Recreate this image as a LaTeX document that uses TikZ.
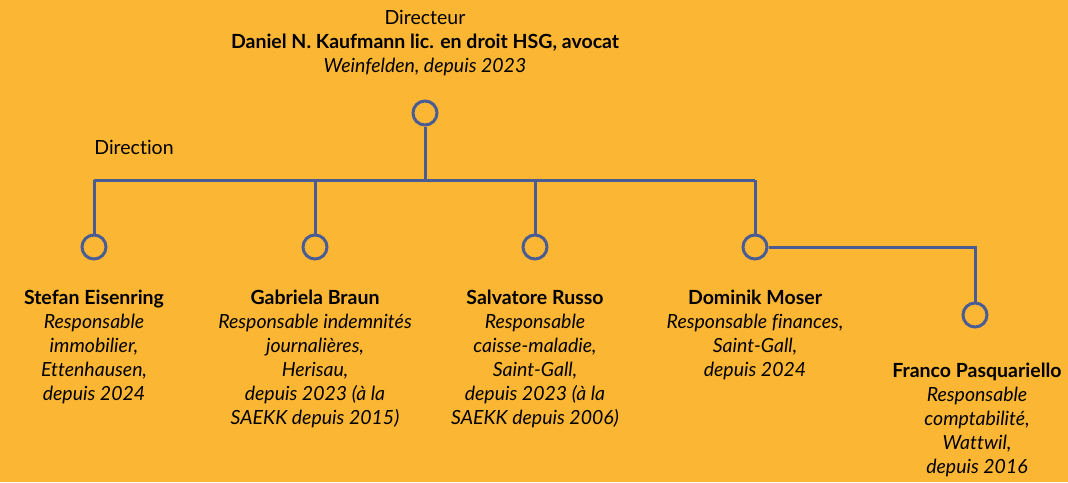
\documentclass[tikz,border=0pt]{standalone}
\usepackage{fontspec}
\setmainfont[RawFeature={-liga}]{Lato}
\definecolor{bg}{HTML}{FBB634}
\definecolor{ln}{HTML}{4A5C94}
\begin{document}
\begin{tikzpicture}[x=1pt,y=-1pt,
  conn/.style={draw=ln,line width=3pt},
  dot/.style={circle,draw=ln,line width=3pt,fill=bg,minimum size=24pt,inner sep=0pt},
  txt/.style={align=center,font=\fontsize{19.5}{24}\selectfont,inner sep=0pt,anchor=north}]
\fill[bg] (0,0) rectangle (1068,482);
\useasboundingbox (0,0) rectangle (1068,482);
\node[txt] (head) at (425,10) {Directeur\\\textbf{Daniel N. Kaufmann lic. en droit HSG, avocat}\\\textit{Weinfelden, depuis 2023}};
\node[txt] (dirlab) at (134,140) {Direction};
\node[dot] (c0) at (425,113) {};
\coordinate (j0) at (425,180);
\coordinate (hl) at (94,180);
\coordinate (hr) at (755,180);
\coordinate (j2) at (315,180);
\coordinate (j3) at (535,180);
\node[dot] (c1) at (94,247) {};
\node[dot] (c2) at (315,247) {};
\node[dot] (c3) at (535,247) {};
\node[dot] (c4) at (755,247) {};
\node[dot] (c5) at (975,315) {};
\coordinate (k5) at (975,247);
\draw[conn] (c0) -- (j0);
\draw[conn] (hl) -- (hr);
\draw[conn] (hl) -- (c1);
\draw[conn] (j2) -- (c2);
\draw[conn] (j3) -- (c3);
\draw[conn] (hr) -- (c4);
\draw[conn] (c4) -- (k5) -- (c5);
\node[txt] (t1) at (94,290) {\textbf{Stefan Eisenring}\\\textit{Responsable}\\\textit{immobilier,}\\\textit{Ettenhausen,}\\\textit{depuis 2024}};
\node[txt] (t2) at (315,290) {\textbf{Gabriela Braun}\\\textit{Responsable indemnités}\\\textit{journalières,}\\\textit{Herisau,}\\\textit{depuis 2023 (à la}\\\textit{SAEKK depuis 2015)}};
\node[txt] (t3) at (535,290) {\textbf{Salvatore Russo}\\\textit{Responsable}\\\textit{caisse-maladie,}\\\textit{Saint-Gall,}\\\textit{depuis 2023 (à la}\\\textit{SAEKK depuis 2006)}};
\node[txt] (t4) at (755,290) {\textbf{Dominik Moser}\\\textit{Responsable finances,}\\\textit{Saint-Gall,}\\\textit{depuis 2024}};
\node[txt] (t5) at (977,363) {\textbf{Franco Pasquariello}\\\textit{Responsable}\\\textit{comptabilité,}\\\textit{Wattwil,}\\\textit{depuis 2016}};
\end{tikzpicture}
\end{document}
